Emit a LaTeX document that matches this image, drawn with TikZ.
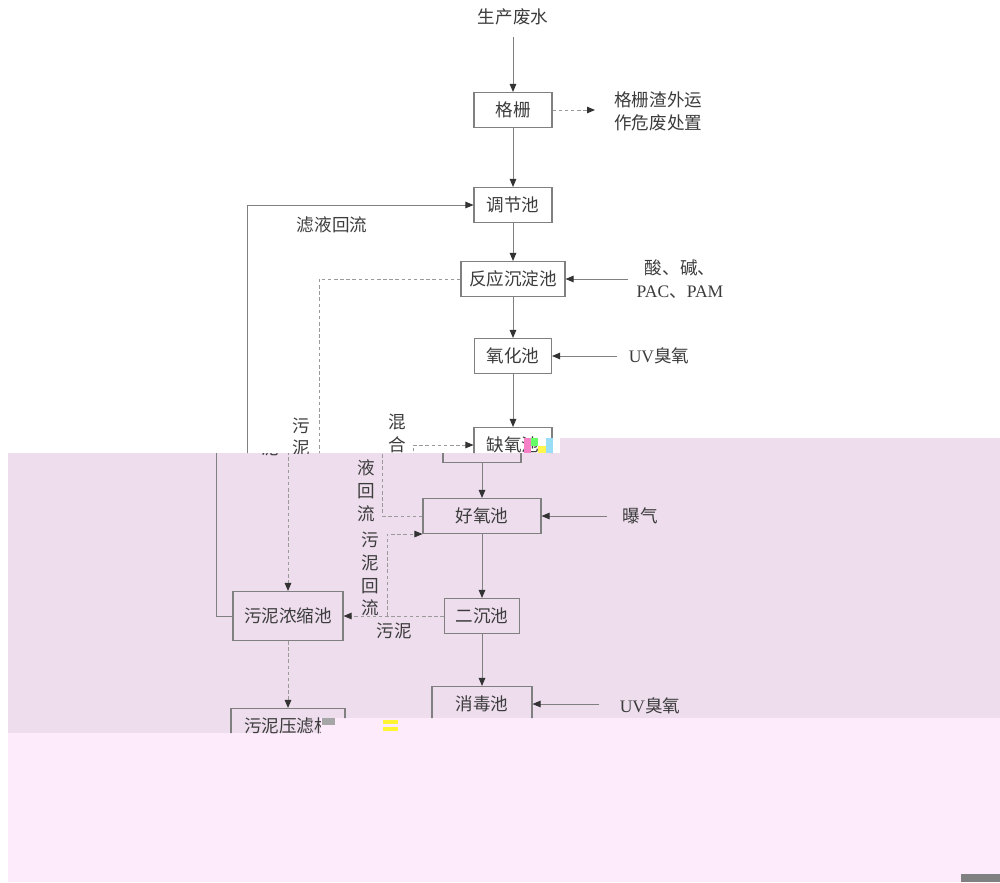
\documentclass[tikz,border=0pt]{standalone}
\usepackage{fontspec}
\setmainfont{Liberation Serif}
\newfontfamily\cjk{Noto Sans CJK SC}
\usetikzlibrary{arrows.meta}

\definecolor{linegray}{HTML}{808080}
\definecolor{dashgray}{HTML}{9A9A9A}
\definecolor{textgray}{HTML}{3C3C3C}
\definecolor{lilac}{HTML}{EDDDED}
\definecolor{blush}{HTML}{FDEBFC}

\newcommand{\lat}[1]{{\rmfamily #1}}
\newif\ifupperhalf
\newcommand{\up}[1]{\ifupperhalf#1\fi}
\newcommand{\lo}[1]{\ifupperhalf\else#1\fi}

% the whole flow sheet, in coordinates of the upper half of the scan
\newcommand{\flowsheet}{%
  % main line
  \node[box, minimum width=1.56cm] (gs) at (513,110) {\up{格栅}};
  \node[box, minimum width=1.56cm] (tj) at (513,205) {\up{调节池}};
  \node[box, minimum width=2.08cm] (fy) at (513,279) {\up{反应沉淀池}};
  \node[box, minimum width=1.54cm] (yh) at (513,356) {\up{氧化池}};
  \node[box, minimum width=1.56cm] (qy) at (513,445) {\up{缺氧池}};
  \node[box, minimum width=2.36cm] (hy) at (513,516) {\lo{好氧池}};
  \node[box, minimum width=1.50cm] (ec) at (513,616) {\lo{二沉池}};
  \node[box, minimum width=2.00cm] (xd) at (513,704) {\lo{消毒池}};
  % sludge line
  \node[box, minimum width=2.20cm, minimum height=0.98cm] (nd) at (319,616) {\lo{污泥浓缩池}};
  \node[box, minimum width=2.28cm] (yl) at (319,726) {\lo{污泥压滤机}};
  \coordinate (split) at (418,616);
  % texts
  \ifupperhalf
    \node[txt] (waste) at (513,17) {生产废水};
    \node[txt, anchor=west, align=left] (slag) at (614,111) {格栅渣外运\\作危废处置};
    \node[txt] (acid) at (680,279) {酸、碱、\\\lat{PAC}、\lat{PAM}};
    \node[txt] (uv1) at (659,356) {\lat{UV}臭氧};
    \node[txt] (lfilt) at (332,225) {滤液回流};
    \draw[flow, shorten <=0.22cm] (waste) -- (gs);
    \draw[dflow, shorten >=0.38cm] (gs.east) -- (slag.west |- gs.east);
    \draw[flow, shorten <=0.16cm] (acid.west |- fy.east) -- (fy.east);
    \draw[flow, shorten <=0.22cm] (uv1) -- (yh);
  \else
    \node[txt] (aer) at (671,516) {曝气};
    \node[txt] (uv2) at (681,706) {\lat{UV}臭氧};
    \node[txt] (lret) at (401,574) {污\\泥\\回\\流};
    \node[txt] (lsl2) at (425,631) {污泥};
    \draw[flow, shorten <=0.3cm] (aer) -- (hy);
    \draw[flow, shorten <=0.4cm] (uv2.west |- xd.east) -- (xd.east);
  \fi
  \node[txt] (lsl1) at (301,437) {污\\泥};
  \node[txt] (lmix) at (397,468) {混\\合\\液\\回\\流};
  % connectors
  \draw[flow] (gs) -- (tj);
  \draw[flow] (tj) -- (fy);
  \draw[flow] (fy) -- (yh);
  \draw[flow] (yh) -- (qy);
  \draw[flow] (qy) -- (hy);
  \draw[flow] (hy) -- (ec);
  \draw[flow] (ec) -- (xd);
  \draw[flow] (nd.west) -- ++(-16,0) |- (tj.west);
  \draw[dflow] (fy.west) -| (nd.north);
  \draw[dflow] (hy.west) -- ++(-40,0) |- (qy.west);
  \draw[dflow] (ec.west) -- (nd.east);
  \draw[dflow] (split) |- (hy.south west);
  \draw[dflow] (nd) -- (yl);
}

\begin{document}
\begin{tikzpicture}[x=0.02cm, y=-0.02cm,
  box/.style={draw=linegray, line width=0.6pt, minimum height=0.7cm, inner sep=2pt,
    font=\cjk\fontsize{10}{13}\selectfont, text=textgray},
  txt/.style={inner sep=0pt, align=center, font=\cjk\fontsize{10}{13}\selectfont, text=textgray},
  flow/.style={draw=linegray, line width=0.55pt, -{Triangle[length=1.6mm, width=1.3mm, color=black!80]}},
  dflow/.style={flow, draw=dashgray, dash pattern=on 2pt off 1.5pt}]

\useasboundingbox (0,0) rectangle (1000,882);

% background of the scan
\fill[white] (0,0) rectangle (1000,882);
\fill[lilac] (8,453) -- (560,453) -- (560,438) -- (1000,438) -- (1000,718)
  -- (320,718) -- (320,733) -- (8,733) -- cycle;
\fill[blush] (8,733) -- (320,733) -- (320,718) -- (1000,718) -- (1000,882) -- (8,882) -- cycle;
\fill[gray] (961,874) rectangle (1000,882);

% upper half
\begin{scope}
  \upperhalftrue
  \clip (0,0) -- (1000,0) -- (1000,438) -- (560,438) -- (560,453) -- (0,453) -- cycle;
  \flowsheet
\end{scope}

% lower half, shifted to the left
\begin{scope}
  \upperhalffalse
  \clip (8,453) -- (560,453) -- (560,438) -- (1000,438) -- (1000,718)
    -- (320,718) -- (320,733) -- (8,733) -- cycle;
  \begin{scope}[xshift=-0.62cm]
    \flowsheet
  \end{scope}
\end{scope}

% scan artefacts
\fill[magenta!50] (524,438) rectangle (531,453);
\fill[green!60] (531,438) rectangle (538,446);
\fill[yellow!70] (538,446) rectangle (546,453);
\fill[cyan!40] (546,438) rectangle (553,453);
\fill[gray!70] (322,718) rectangle (335,725);
\fill[yellow!80] (383,720) rectangle (398,724);
\fill[yellow!80] (383,727) rectangle (398,731);

\end{tikzpicture}
\end{document}
